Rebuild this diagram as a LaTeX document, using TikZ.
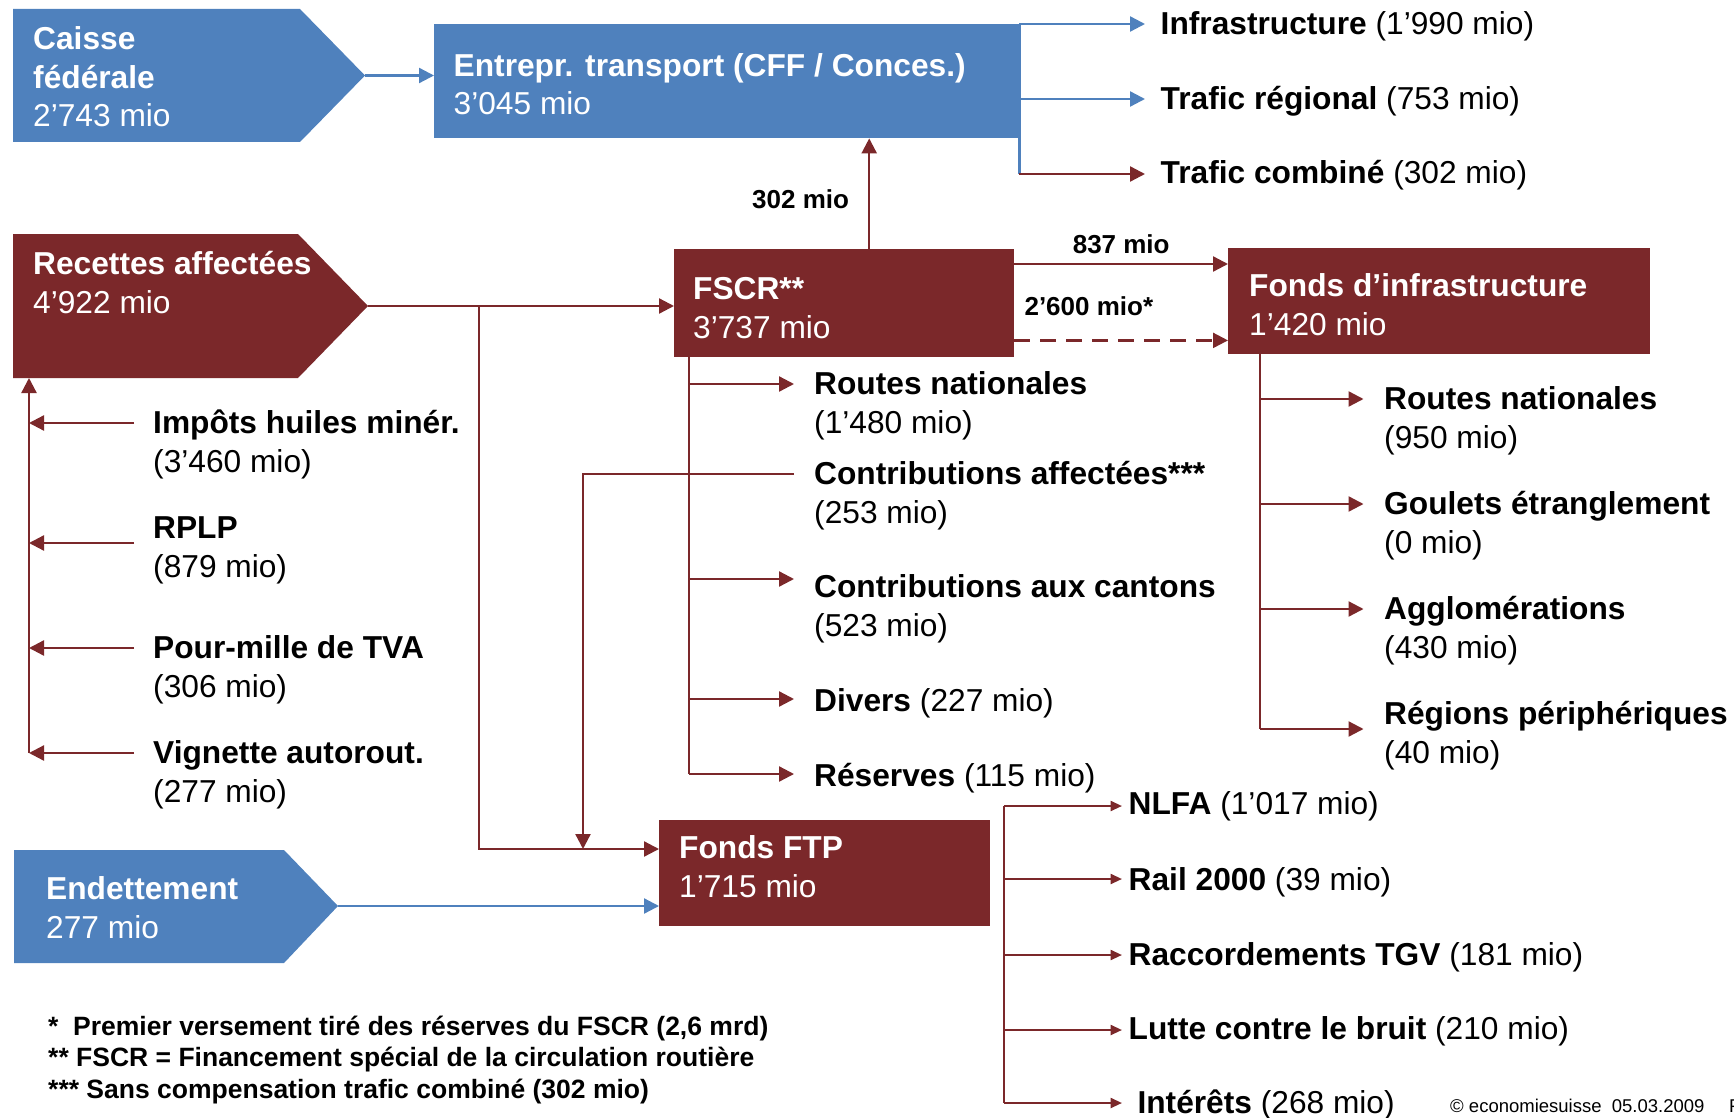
\documentclass[tikz,border=0pt]{standalone}
\usepackage{fontspec}
\setmainfont{Liberation Sans}
\usetikzlibrary{arrows.meta,positioning,calc}
\definecolor{ecoblue}{RGB}{79,129,189}
\definecolor{ecored}{RGB}{123,40,42}
\tikzset{%
bluebox/.style={rectangle, fill=ecoblue, inner sep=0pt, anchor=north west},
redbox/.style={rectangle, fill=ecored, inner sep=0pt, anchor=north west},
boxtext/.style={text=white, anchor=base west, align=left, inner sep=0pt, font=\fontsize{31.7}{38.5}\selectfont},
item/.style={text=black, anchor=base west, align=left, inner sep=0pt, font=\fontsize{31.7}{38.5}\selectfont},
flowlabel/.style={inner sep=0pt, font=\fontsize{26}{30}\selectfont\bfseries},
rflow/.style={draw=ecored, line width=2.3pt, -{Triangle[length=15pt,width=15pt]}},
sflow/.style={draw=ecored, line width=2.3pt, -{Triangle[length=11.5pt,width=10pt]}},
bflow/.style={draw=ecoblue, line width=2.3pt, -{Triangle[length=15pt,width=15pt]}},
rline/.style={draw=ecored, line width=2.3pt},
bline/.style={draw=ecoblue, line width=2.3pt}
}

\begin{document}
\begin{tikzpicture}[x=1pt,y=-1pt]
\useasboundingbox (0,0) rectangle (1734,1118);

% sources (the base of a text is its last line)
\fill[ecoblue] (13,9) -- (300,9) -- (365,75.5) -- (300,142) -- (13,142) -- cycle;
\coordinate (caisse) at (365,75.5);
\node[boxtext] (caissetxt) at (33,127) {\textbf{Caisse}\\\textbf{fédérale}\\2’743 mio};

\fill[ecored] (13,234) -- (298,234) -- (368,306) -- (298,378) -- (13,378) -- cycle;
\coordinate (recettes) at (368,306);
\coordinate (recettes-in) at (29,378);
\node[boxtext] (recettestxt) at (33,313) {\textbf{Recettes affectées}\\4’922 mio};

\fill[ecoblue] (14,850) -- (284,850) -- (338,906) -- (284,963) -- (14,963) -- cycle;
\coordinate (endet) at (338,906);
\node[boxtext] (endettxt) at (46,938) {\textbf{Endettement}\\277 mio};

% funds
\node[bluebox, minimum width=585pt, minimum height=114pt] (entrepr) at (434,24) {};
\node[boxtext] (entreprtxt) at ([xshift=19.5pt,yshift=-91pt]entrepr.north west) {\textbf{Entrepr. transport (CFF / Conces.)}\\3’045 mio};
\node[redbox, minimum width=340pt, minimum height=108pt] (fscr) at (674,249) {};
\node[boxtext] (fscrtxt) at ([xshift=19pt,yshift=-89pt]fscr.north west) {\textbf{FSCR**}\\3’737 mio};
\node[redbox, minimum width=422pt, minimum height=106pt] (finfra) at (1228,248) {};
\node[boxtext] (finfratxt) at ([xshift=21pt,yshift=-87pt]finfra.north west) {\textbf{Fonds d’infrastructure}\\1’420 mio};
\node[redbox, minimum width=331pt, minimum height=106pt] (ftp) at (659,820) {};
\node[boxtext] (ftptxt) at ([xshift=20pt,yshift=-77pt]ftp.north west) {\textbf{Fonds FTP}\\1’715 mio};

% main flows
\draw[bflow] (caisse) -- (caisse -| entrepr.west);
\draw[rflow] (recettes) -- (recettes -| fscr.west);
\coordinate (split) at (479,306);
\coordinate (ftp-in) at ([yshift=-29pt]ftp.north west);
\draw[rflow] (split) |- (ftp-in);
\draw[bflow] (endet) -- (endet -| ftp.west);
\draw[rflow] ([xshift=25pt]fscr.north) -- ([xshift=25pt]fscr.north |- entrepr.south)
  node[flowlabel, pos=0.45, left=19pt] (l302) {302 mio};
\draw[rflow] ([yshift=-15pt]fscr.north east) -- ([yshift=-15pt]fscr.north east -| finfra.west)
  node[flowlabel, midway, above=9pt] (l837) {837 mio};
\draw[rflow, dash pattern=on 16pt off 10pt] ([yshift=17pt]fscr.south east) -- ([yshift=17pt]fscr.south east -| finfra.west)
  node[flowlabel, pos=0, anchor=base west, xshift=9pt, yshift=25pt] (l2600) {2’600 mio*};

% entreprises de transport
\coordinate (t-infra) at (1145,24);
\coordinate (t-reg) at (1145,99);
\coordinate (t-comb) at (1145,174);
\node[item] (infra) at ([xshift=15.5pt,yshift=-11pt]t-infra) {\textbf{Infrastructure} (1’990 mio)};
\node[item] (reg) at ([xshift=15.5pt,yshift=-11pt]t-reg) {\textbf{Trafic régional} (753 mio)};
\node[item] (comb) at ([xshift=15.5pt,yshift=-10pt]t-comb) {\textbf{Trafic combiné} (302 mio)};
\draw[bline] (entrepr.north east) -- (entrepr.north east |- t-comb);
\draw[bflow] (entrepr.north east) -- (t-infra);
\draw[bflow] (entrepr.east |- t-reg) -- (t-reg);
\draw[rflow] (entrepr.east |- t-comb) -- (t-comb);

% recettes affectees
\foreach \nm/\ay/\dy/\txt in {%
  imp/423/-49pt/{\textbf{Impôts huiles minér.}\\(3’460 mio)},
  rplp/543/-34pt/{\textbf{RPLP}\\(879 mio)},
  tva/648/-49pt/{\textbf{Pour-mille de TVA}\\(306 mio)},
  vig/753/-49pt/{\textbf{Vignette autorout.}\\(277 mio)}}{%
  \coordinate (\nm-tail) at (134,\ay);
  \node[item] (\nm) at ([xshift=19pt,yshift=\dy]\nm-tail) {\txt};
  \draw[rflow] (\nm-tail) -- (\nm-tail -| recettes-in);
}
\draw[rflow] (recettes-in |- vig-tail) -- (recettes-in);

% FSCR
\coordinate (fscr-bus) at ([xshift=15pt]fscr.south west);
\foreach \nm/\ay/\dy/\txt in {%
  rn1/384/-49pt/{\textbf{Routes nationales}\\(1’480 mio)},
  cant/579/-57pt/{\textbf{Contributions aux cantons}\\(523 mio)},
  div/699/-12pt/{\textbf{Divers} (227 mio)},
  res/774/-12pt/{\textbf{Réserves} (115 mio)}}{%
  \coordinate (\nm-tip) at (794,\ay);
  \node[item] (\nm) at ([xshift=20pt,yshift=\dy]\nm-tip) {\txt};
  \draw[rflow] (fscr-bus |- \nm-tip) -- (\nm-tip);
}
\draw[rline] (fscr-bus) -- (fscr-bus |- res-tip);
\coordinate (aff-tip) at (794,474);
\coordinate (aff-turn) at (583,474);
\node[item] (aff) at ([xshift=20pt,yshift=-49pt]aff-tip) {\textbf{Contributions affectées***}\\(253 mio)};
\draw[rflow] (aff-tip) -- (aff-turn) -- (aff-turn |- ftp-in);

% fonds d'infrastructure
\coordinate (finfra-bus) at ([xshift=32pt]finfra.south west);
\foreach \nm/\ay/\dy/\txt in {%
  rn2/399/-49pt/{\textbf{Routes nationales}\\(950 mio)},
  goul/504/-49pt/{\textbf{Goulets étranglement}\\(0 mio)},
  aggl/609/-49pt/{\textbf{Agglomérations}\\(430 mio)},
  regp/729/-34pt/{\textbf{Régions périphériques}\\(40 mio)}}{%
  \coordinate (\nm-tip) at (1363.5,\ay);
  \node[item] (\nm) at ([xshift=20.5pt,yshift=\dy]\nm-tip) {\txt};
  \draw[rflow] (finfra-bus |- \nm-tip) -- (\nm-tip);
}
\draw[rline] (finfra-bus) -- (finfra-bus |- regp-tip);

% fonds FTP
\coordinate (ftp-bus) at (1004,806);
\foreach \nm/\ay/\dy/\txt in {%
  nlfa/806/-8pt/{\textbf{NLFA} (1’017 mio)},
  rail/879/-11pt/{\textbf{Rail 2000} (39 mio)},
  tgv/955/-10pt/{\textbf{Raccordements TGV} (181 mio)},
  bruit/1030/-9pt/{\textbf{Lutte contre le bruit} (210 mio)},
  inter/1103/-10pt/{~\textbf{Intérêts} (268 mio)}}{%
  \coordinate (\nm-tip) at (1122,\ay);
  \node[item] (\nm) at ([xshift=6.5pt,yshift=\dy]\nm-tip) {\txt};
  \draw[sflow] (ftp-bus |- \nm-tip) -- (\nm-tip);
}
\draw[rline] (ftp-bus) -- (ftp-bus |- inter-tip);

% notes
\node[anchor=base west, align=left, inner sep=0pt, font=\fontsize{26.5}{31.5}\selectfont\bfseries] (notes) at (48,1098)
  {*\ \ Premier versement tiré des réserves du FSCR (2,6 mrd)\\{}** FSCR = Financement spécial de la circulation routière\\{}*** Sans compensation trafic combiné (302 mio)};
\node[anchor=base west, inner sep=0pt, font=\fontsize{18.5}{22}\selectfont] (copy) at (1450,1112) {© economiesuisse\ \ 05.03.2009};
\node[anchor=base west, inner sep=0pt, font=\fontsize{18.5}{22}\selectfont] (page) at (1729,1112) {P};
\end{tikzpicture}
\end{document}
